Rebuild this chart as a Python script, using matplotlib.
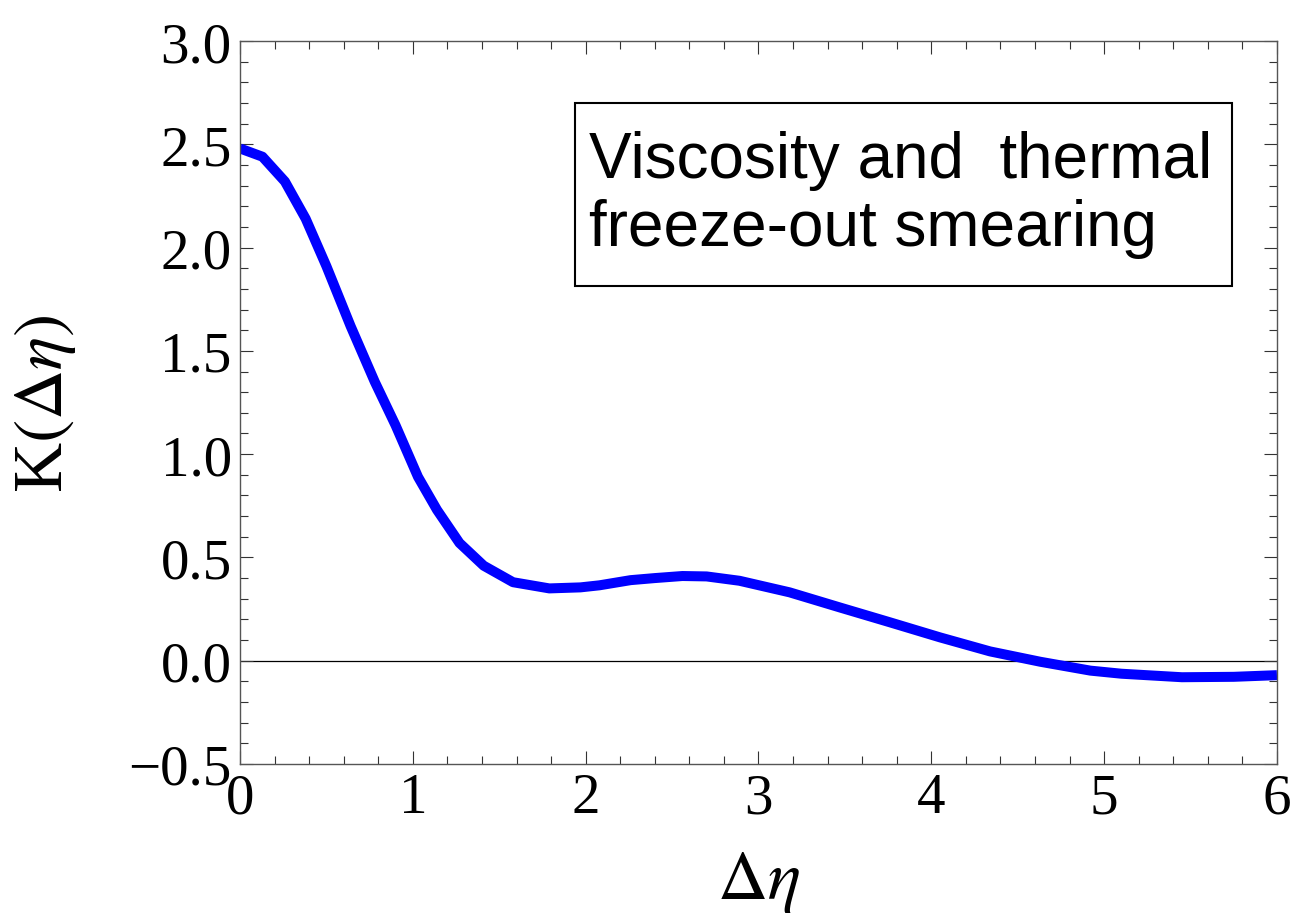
import numpy as np
import matplotlib
matplotlib.use("Agg")
import matplotlib.pyplot as plt
from matplotlib.patches import Rectangle
from matplotlib.ticker import MultipleLocator, FuncFormatter

# curve
deta = [0.0, 0.13, 0.26, 0.38, 0.50, 0.64, 0.78, 0.90, 1.03, 1.14, 1.27, 1.41,
        1.58, 1.79, 1.97, 2.08, 2.26, 2.40, 2.56, 2.70, 2.89, 3.18, 3.47, 3.76,
        4.05, 4.34, 4.63, 4.92, 5.10, 5.45, 5.75, 6.0]
kval = [2.48, 2.44, 2.32, 2.14, 1.91, 1.62, 1.35, 1.14, 0.89, 0.73, 0.57, 0.46,
        0.38, 0.35, 0.355, 0.365, 0.39, 0.40, 0.41, 0.408, 0.387, 0.331, 0.258, 0.186,
        0.113, 0.045, -0.005, -0.048, -0.063, -0.08, -0.078, -0.07]

box_text = "Viscosity and  thermal\nfreeze-out smearing"

plt.rcParams['font.family'] = ['Liberation Serif', 'DejaVu Serif']
plt.rcParams['mathtext.fontset'] = 'stix'

fig = plt.figure(figsize=(12.93, 9.2), dpi=100)
ax = fig.add_axes([0.1856, 0.1685, 0.8020, 0.7858])

ax.axhline(0, color='black', lw=0.9, zorder=1)
ax.plot(deta, kval, color='#0000ff', lw=7.2, solid_joinstyle='round',
        solid_capstyle='butt', zorder=2)

ax.set_xlim(0, 6)
ax.set_ylim(-0.5, 3.0)
ax.xaxis.set_major_locator(MultipleLocator(1))
ax.xaxis.set_minor_locator(MultipleLocator(0.2))
ax.yaxis.set_major_locator(MultipleLocator(0.5))
ax.yaxis.set_minor_locator(MultipleLocator(0.1))
ax.yaxis.set_major_formatter(FuncFormatter(lambda v, p: ('%.1f' % v).replace('-', '\u2212')))
ax.xaxis.set_major_formatter(FuncFormatter(lambda v, p: '%d' % round(v)))

ax.tick_params(which='both', direction='in', top=True, right=True,
               color='#333333', width=0.8)
ax.tick_params(which='major', length=9.5, labelsize=41, pad=6)
ax.tick_params(which='minor', length=5.8)
for s in ax.spines.values():
    s.set_color('#555555')
    s.set_linewidth(1.0)

ax.set_xlabel(r'$\Delta\eta$', fontsize=50, labelpad=18)
ax.set_ylabel(r'K$(\Delta\eta)$', fontsize=50, labelpad=36)

# framed label
ax.add_patch(Rectangle((0.323, 0.661), 0.634, 0.253, transform=ax.transAxes,
                       fc='white', ec='black', lw=1.5, zorder=3))
ax.text(0.337, 0.789, box_text, transform=ax.transAxes, ha='left', va='center',
        multialignment='left', family=['Liberation Sans', 'DejaVu Sans'],
        fontsize=46, linespacing=1.17, zorder=4)

fig.savefig("out.png", dpi=100)
